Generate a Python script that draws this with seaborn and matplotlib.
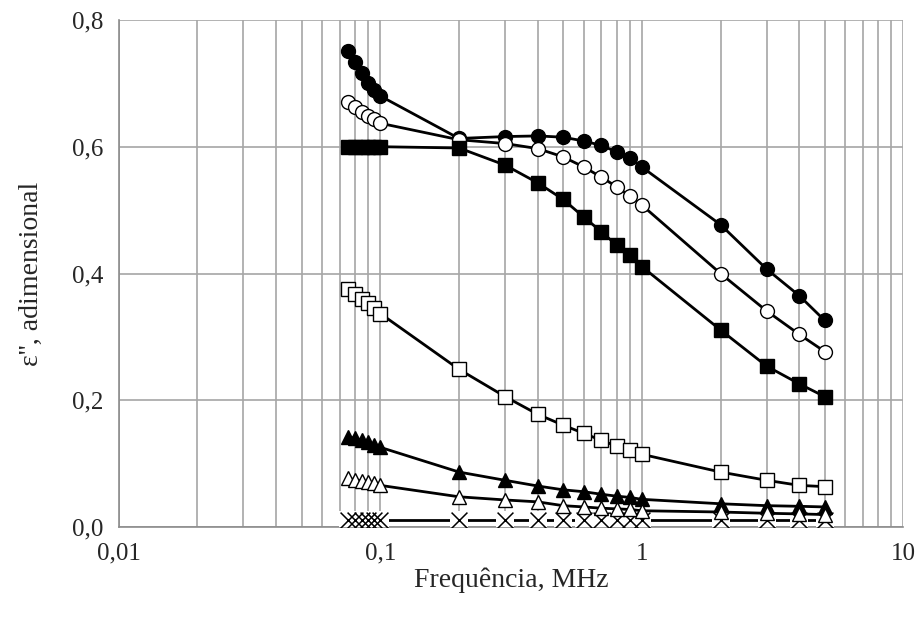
import numpy as np
import pandas as pd
import matplotlib
matplotlib.use("Agg")
import matplotlib.pyplot as plt
import matplotlib.ticker as mticker
import seaborn as sns

# Frequencies (MHz)
freq = [0.075, 0.08, 0.085, 0.09, 0.095, 0.1, 0.2, 0.3, 0.4, 0.5, 0.6, 0.7, 0.8, 0.9, 1, 2, 3, 4, 5]

# epsilon'' values
circ_filled = [0.751, 0.734, 0.716, 0.700, 0.689, 0.680, 0.613, 0.616, 0.617, 0.615, 0.609, 0.602,
               0.592, 0.582, 0.568, 0.477, 0.407, 0.365, 0.326]
circ_open = [0.671, 0.662, 0.655, 0.648, 0.643, 0.637, 0.611, 0.605, 0.597, 0.584, 0.568, 0.552,
             0.537, 0.522, 0.508, 0.400, 0.341, 0.304, 0.277]
sq_filled = [0.600, 0.600, 0.600, 0.600, 0.600, 0.600, 0.598, 0.571, 0.543, 0.517, 0.489, 0.466,
             0.445, 0.429, 0.411, 0.311, 0.254, 0.226, 0.206]
sq_open = [0.376, 0.368, 0.360, 0.353, 0.345, 0.337, 0.249, 0.206, 0.178, 0.161, 0.148, 0.137,
           0.128, 0.121, 0.115, 0.087, 0.074, 0.066, 0.064]
tri_filled = [0.143, 0.140, 0.137, 0.134, 0.130, 0.126, 0.087, 0.074, 0.065, 0.059, 0.056, 0.052,
              0.049, 0.047, 0.044, 0.037, 0.034, 0.033, 0.032]
tri_open = [0.077, 0.075, 0.073, 0.071, 0.069, 0.066, 0.048, 0.043, 0.040, 0.034, 0.032, 0.030,
            0.029, 0.028, 0.026, 0.024, 0.022, 0.021, 0.020]
cross = [0.011] * 19

xticks = [0.01, 0.1, 1, 10]
yticks = [0.0, 0.2, 0.4, 0.6, 0.8]

sns.set_style("white")
plt.rcParams['font.family'] = ['Liberation Serif', 'DejaVu Serif']

fig = plt.figure(figsize=(9.2, 6.21), dpi=100)
ax = fig.add_axes([0.129, 0.151, 0.853, 0.817])

series = [
    (circ_filled, 'o', 'black'),
    (circ_open, 'o', 'white'),
    (sq_filled, 's', 'black'),
    (sq_open, 's', 'white'),
    (tri_filled, '^', 'black'),
    (tri_open, '^', 'white'),
]

# cross series first (bottom), white squares behind markers break the line like Excel does
df_x = pd.DataFrame({'f': freq, 'e': cross})
sns.lineplot(data=df_x, x='f', y='e', ax=ax, color='black', linewidth=2.0, zorder=3)
sns.scatterplot(data=df_x, x='f', y='e', ax=ax, marker='s', color='white', s=170,
                edgecolor='none', zorder=4)
sns.scatterplot(data=df_x, x='f', y='e', ax=ax, marker='x', color='black', s=130,
                linewidth=1.1, zorder=5)

for vals, mk, fc in series:
    df = pd.DataFrame({'f': freq, 'e': vals})
    sns.lineplot(data=df, x='f', y='e', ax=ax, color='black', linewidth=2.0,
                 marker=mk, markersize=10, markerfacecolor=fc, markeredgecolor='black',
                 markeredgewidth=1.0, zorder=6)

ax.set_xscale('log')
ax.set_xlim(0.01, 10)
ax.set_ylim(0, 0.8)
ax.set_xticks(xticks)
ax.set_yticks(yticks)
ax.xaxis.set_major_formatter(mticker.FuncFormatter(lambda x, _: f'{x:g}'.replace('.', ',')))
ax.yaxis.set_major_formatter(mticker.FuncFormatter(lambda y, _: f'{y:.1f}'.replace('.', ',')))
ax.xaxis.set_minor_locator(mticker.LogLocator(base=10, subs=np.arange(2, 10)))
ax.xaxis.set_minor_formatter(mticker.NullFormatter())

ax.grid(True, which='both', axis='x', color='#a6a6a6', linewidth=1.2)
ax.grid(True, which='major', axis='y', color='#a6a6a6', linewidth=1.2)
ax.set_axisbelow(True)

for side in ['top', 'right']:
    ax.spines[side].set_visible(False)
for side in ['left', 'bottom']:
    ax.spines[side].set_color('#8c8c8c')
    ax.spines[side].set_linewidth(1.2)

ax.tick_params(axis='both', which='major', direction='out', length=6, width=1.2,
               color='#8c8c8c', labelsize=18, labelcolor='#262626', pad=5)
ax.tick_params(axis='both', which='minor', length=0)

ax.set_xlabel('Frequência, MHz', fontsize=20, labelpad=2)
ax.set_ylabel("ε'', adimensional", fontsize=20, labelpad=20)

fig.savefig('out.png', dpi=100)
